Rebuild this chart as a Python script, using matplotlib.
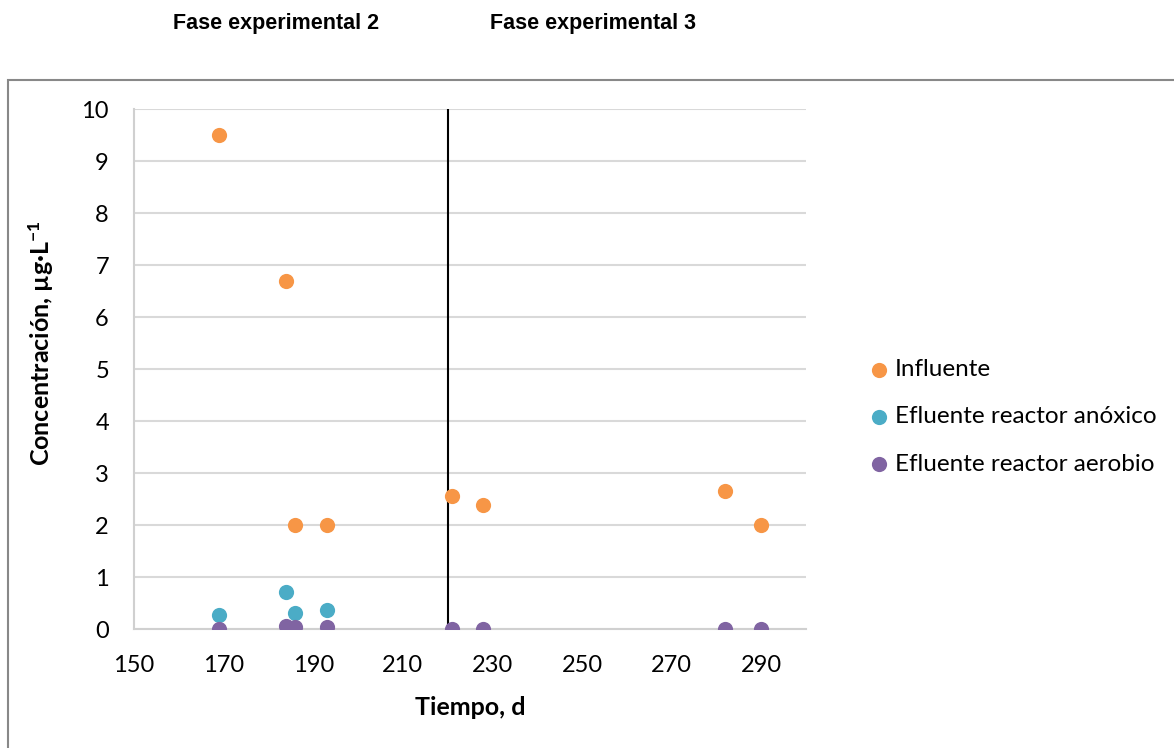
import numpy as np
import matplotlib
matplotlib.use("Agg")
import matplotlib.pyplot as plt
from matplotlib.patches import Rectangle

# data
dias_infl = [169, 184, 186, 193, 221, 228, 282, 290]
conc_infl = [9.5, 6.7, 2.0, 2.0, 2.55, 2.38, 2.65, 2.0]

dias_anox = [169, 184, 186, 193]
conc_anox = [0.27, 0.72, 0.31, 0.37]

dias_aer = [169, 184, 186, 193, 221, 228, 282, 290]
conc_aer = [0.0, 0.06, 0.03, 0.03, 0.0, 0.0, 0.0, 0.0]

cambio_fase = 220  # día de cambio de fase experimental
fases = ["Fase experimental 2", "Fase experimental 3"]
x_ticks = np.arange(150, 300, 20)
y_ticks = np.arange(0, 11, 1)

plt.rcParams['font.family'] = ['Lato', 'DejaVu Sans']
plt.rcParams['mathtext.default'] = 'regular'

W, H = 1174, 748
fig = plt.figure(figsize=(W / 100, H / 100), dpi=100)
ax = fig.add_axes([134 / W, 1 - 629 / H, (806 - 134) / W, (629 - 109) / H])

ax.axvline(cambio_fase, color='black', lw=1.5, zorder=2)
ax.scatter(dias_infl, conc_infl, s=120, color='#F79646', label='Influente', zorder=3, linewidths=0)
ax.scatter(dias_anox, conc_anox, s=120, color='#4BACC6', label='Efluente reactor anóxico', zorder=4, linewidths=0)
ax.scatter(dias_aer, conc_aer, s=120, color='#8064A2', label='Efluente reactor aerobio', zorder=5, linewidths=0)

ax.set_xlim(150, 300)
ax.set_ylim(0, 10)
ax.set_xticks(x_ticks)
ax.set_yticks(y_ticks)
ax.tick_params(length=0, labelsize=17)
ax.tick_params(axis='x', pad=19)
ax.tick_params(axis='y', pad=18)
ax.grid(axis='y', color='#d9d9d9', lw=1.5, zorder=0)
ax.set_axisbelow(True)
for s in ['top', 'right']:
    ax.spines[s].set_visible(False)
for s in ['left', 'bottom']:
    ax.spines[s].set_color('#d0d0d0')
    ax.spines[s].set_linewidth(1.5)

ax.set_xlabel('Tiempo, d', fontsize=18, fontweight='bold', labelpad=14)
ax.set_ylabel('Concentración, µg·L$^{-1}$', fontsize=18, fontweight='bold')
ax.yaxis.set_label_coords(-0.116, 0.55)

ax.legend(loc='center left', bbox_to_anchor=(1.096, 0.408), frameon=False,
          fontsize=17.5, handlelength=0.7, handletextpad=0.3, labelspacing=1.08,
          borderpad=0, borderaxespad=0)

# fase titles above the chart
fig.text(276 / W, 1 - 29 / H, fases[0], ha='center', va='baseline', fontsize=15.5,
         fontweight='bold', family='Liberation Sans')
fig.text(593 / W, 1 - 29 / H, fases[1], ha='center', va='baseline', fontsize=15.5,
         fontweight='bold', family='Liberation Sans')

# chart-area border
fig.patches.append(Rectangle((8 / W, -0.01), 1.1, 1 - 80 / H + 0.01, transform=fig.transFigure,
                             fill=False, edgecolor='#888888', lw=1.5))

fig.savefig('out.png', dpi=100)
